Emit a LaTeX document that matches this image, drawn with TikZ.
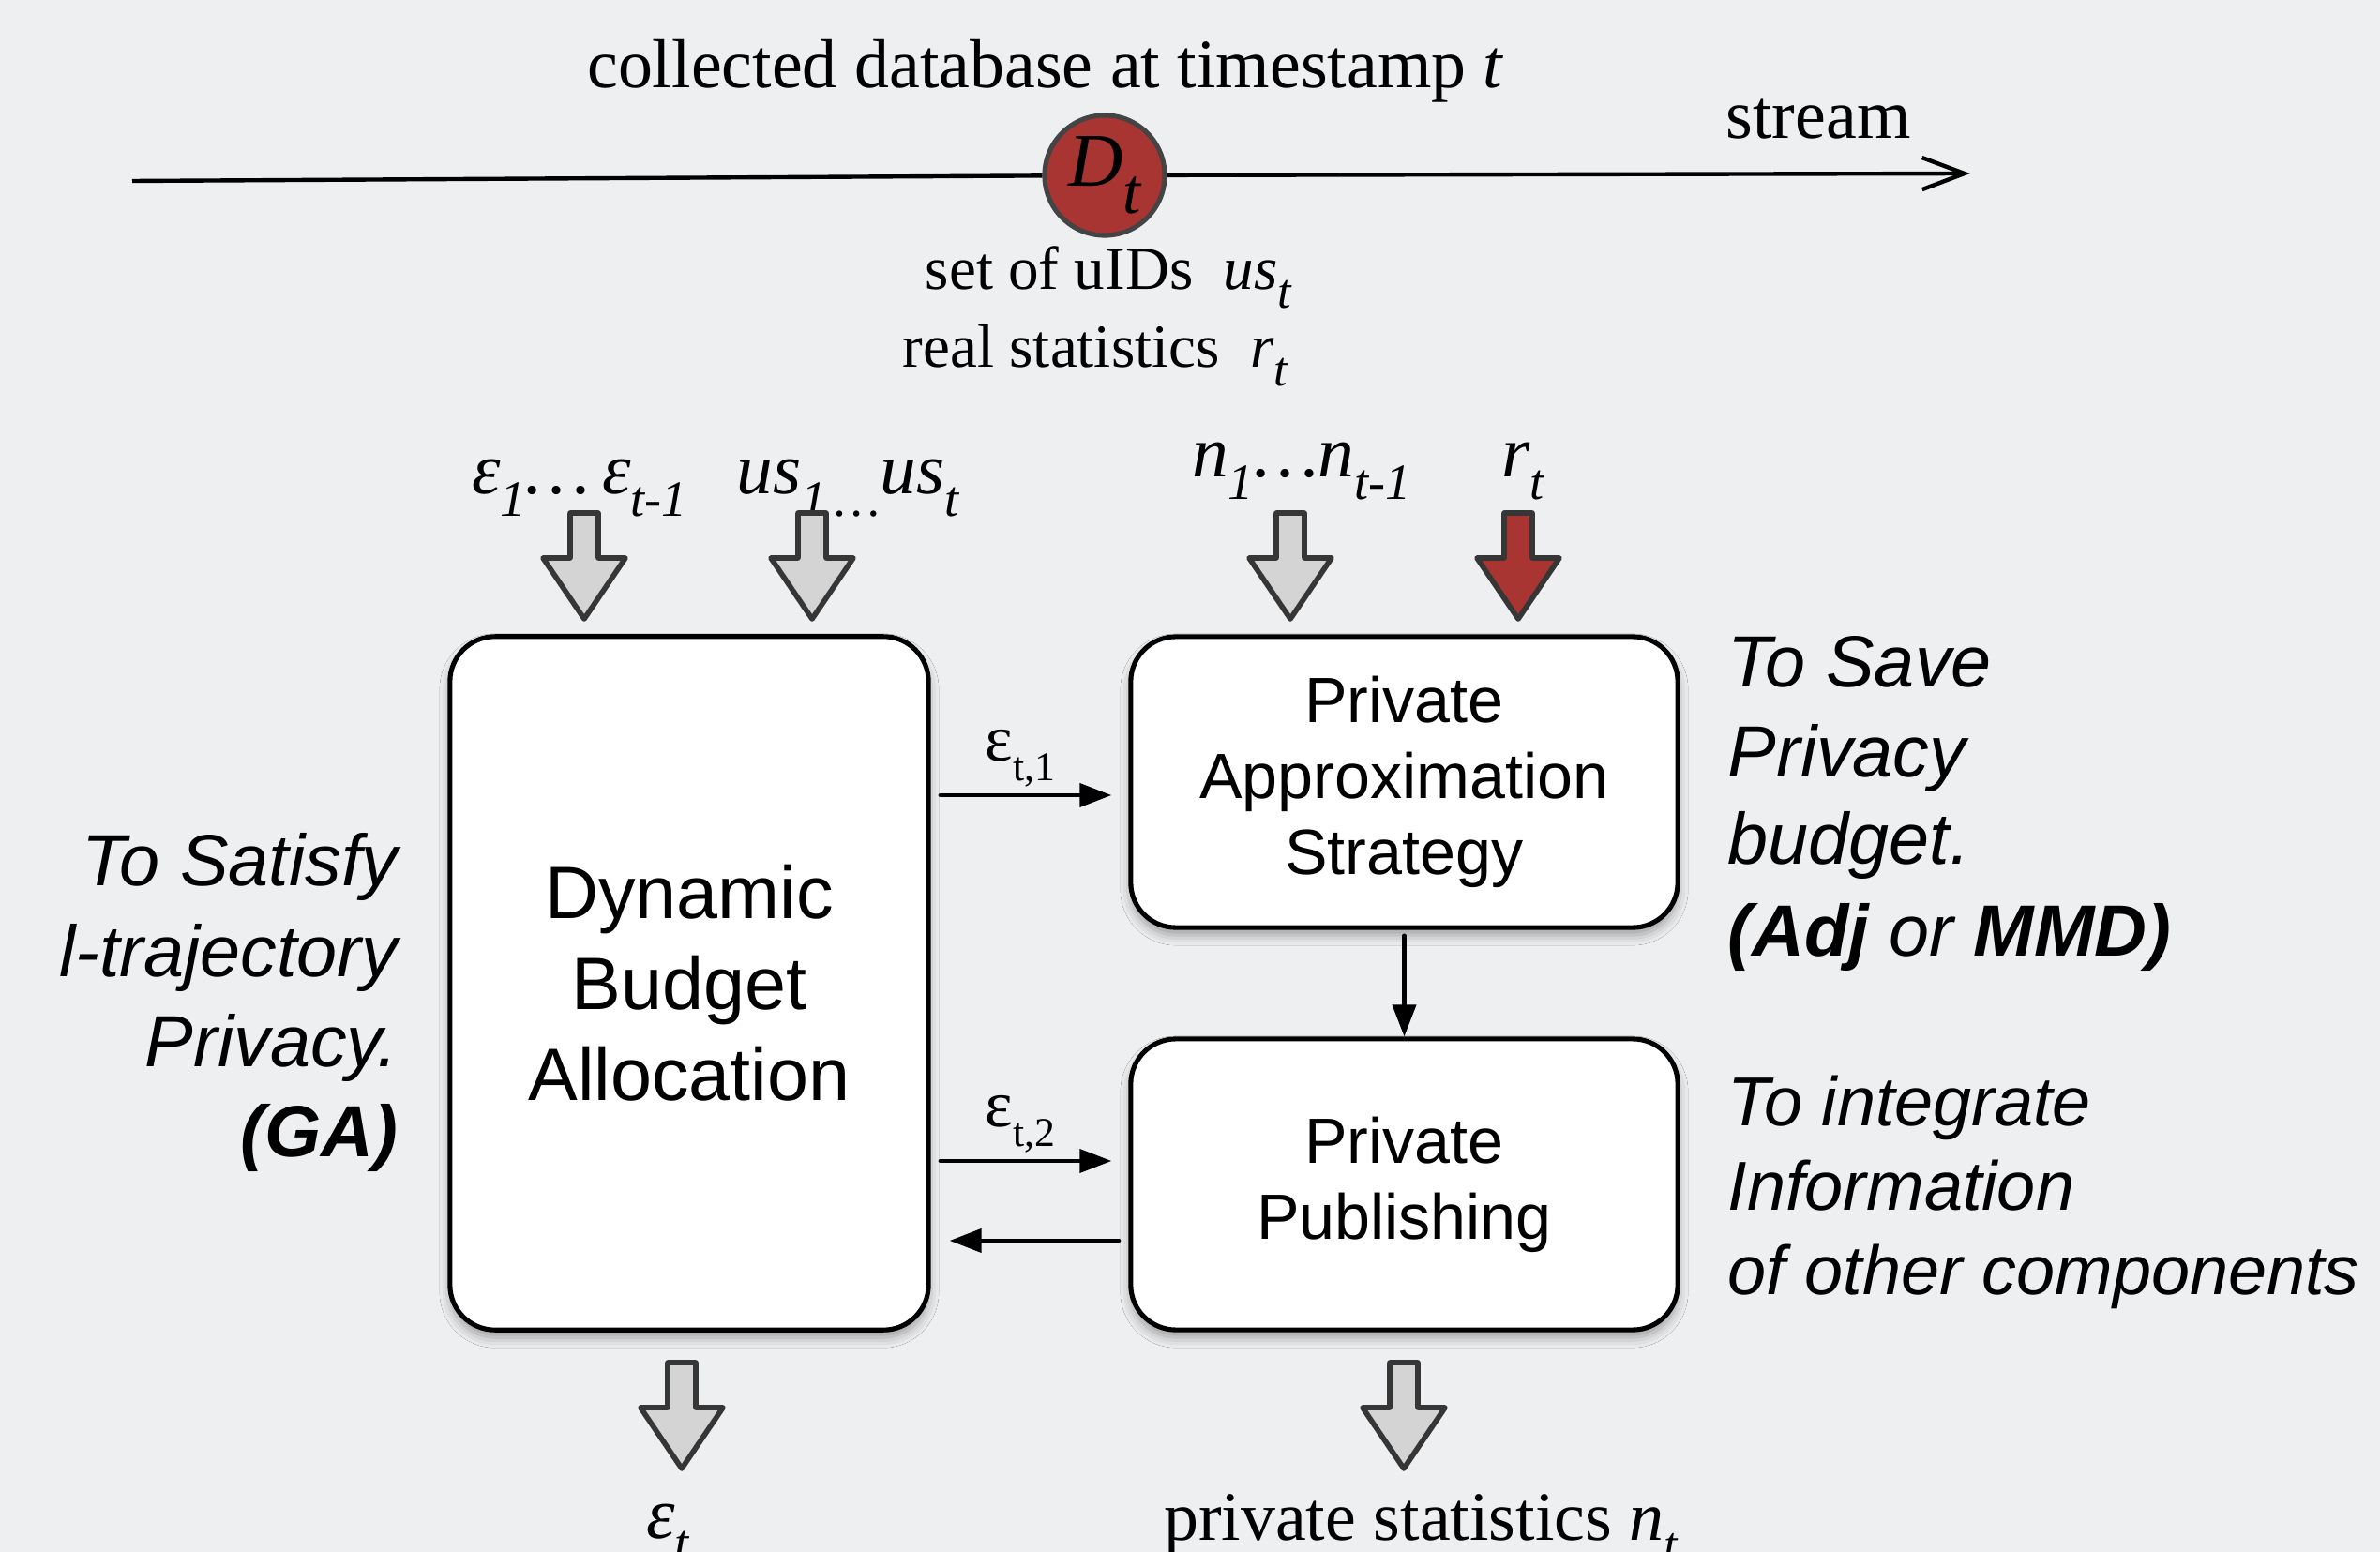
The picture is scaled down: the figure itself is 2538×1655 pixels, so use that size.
\documentclass[tikz,border=0pt]{standalone}
\usepackage{fontspec}
\usepackage{graphicx}
\setmainfont{Liberation Serif}
\newfontfamily\hel{Liberation Sans}
\usetikzlibrary{arrows.meta,shadows.blur}

\definecolor{bg}{HTML}{EEEFF1}
\definecolor{dred}{HTML}{A93532}
\definecolor{agray}{HTML}{D4D4D4}
\definecolor{astroke}{HTML}{363636}
\definecolor{cborder}{HTML}{444444}

\newcommand\lsub[2][0.7]{\raisebox{-0.3em}{\scalebox{#1}{#2}}}
\newcommand\fsz[2]{\fontsize{#1}{#2}\selectfont}

\tikzset{
  box/.style={draw=black, line width=1.45pt, fill=white, rounded corners=0.48cm,
    blur shadow={shadow xshift=0cm, shadow yshift=-0.08cm, shadow blur radius=0.11cm, shadow opacity=35},
    inner sep=0pt, align=center},
  conn/.style={line width=1.2pt, line cap=round, -{Triangle[length=0.34cm,width=0.25cm]}},
  pics/barrow/.style={code={
    \draw[line width=1.6pt, draw=astroke, line join=round, fill=#1]
      (-15,0) -- (15,0) -- (15,48) -- (44,48) -- (0,113) -- (-44,48) -- (-15,48) -- cycle;}},
  serif/.style={inner sep=0pt, anchor=base},
  annot/.style={inner sep=0pt, font=\hel\itshape\fsz{22pt}{22pt}},
  annotb/.style={inner sep=0pt, font=\hel\itshape\fsz{21pt}{21pt}}
}

\begin{document}
\begin{tikzpicture}[x=0.01cm, y=-0.01cm]
\fill[bg] (0,0) rectangle (2538,1655);
\useasboundingbox (0,0) rectangle (2538,1655);

% stream timeline
\coordinate (tls) at (141,193);
\coordinate (tle) at (2101,185);
\node[circle, fill=dred, draw=cborder, line width=1.45pt, minimum size=1.28cm, inner sep=0pt]
  (Dt) at (1178,187) {\fsz{23pt}{23pt}\itshape D\raisebox{-0.35em}{\scalebox{0.85}{t}}};
\draw[line width=1.25pt] (tls) -- (Dt);
\draw[line width=1.25pt, -{Straight Barb[length=0.45cm,width=0.34cm]}] (Dt) -- (tle);

\node[serif] (title) at (1115,94) {\fsz{21pt}{21pt}collected database at timestamp \textit{t}};
\node[serif] (stream) at (1939,148) {\fsz{21pt}{21pt}stream};
\node[serif] (uids) at (1182,309) {\fsz{18.5pt}{18.5pt}set of uIDs\hspace{0.5em}\textit{us}\lsub[0.8]{\itshape t}};
\node[serif] (rstat) at (1168,392) {\fsz{18.5pt}{18.5pt}real statistics\hspace{0.5em}\textit{r}\lsub[0.8]{\itshape t}};

% input labels
\node[serif] (leps) at (618,527) {\fsz{22pt}{22pt}\itshape ε\lsub{1}…\,ε\lsub{t-1}};
\node[serif] (lus) at (904,527) {\fsz{22pt}{22pt}\itshape us\lsub{1\,…}us\lsub{t}};
\node[serif] (ln) at (1388,509) {\fsz{22pt}{22pt}\itshape n\lsub{1}…n\lsub{t-1}};
\node[serif] (lr) at (1624,509) {\fsz{22pt}{22pt}\itshape r\lsub{t}};

% block arrows
\pic at (623,547) {barrow=agray};
\pic at (866,547) {barrow=agray};
\pic at (1376,547) {barrow=agray};
\pic at (1619,547) {barrow=dred};
\pic at (727,1453) {barrow=agray};
\pic at (1497,1453) {barrow=agray};

% boxes
\node[box, minimum width=5.10cm, minimum height=7.39cm, font=\hel\fsz{22.5pt}{27.6pt}]
  (dba) at (735,1048.5) {Dynamic\\Budget\\Allocation};
\node[box, minimum width=5.83cm, minimum height=3.10cm, font=\hel\fsz{19.4pt}{23pt}]
  (pas) at (1497.5,834) {Private\\Approximation\\Strategy};
\node[box, minimum width=5.83cm, minimum height=3.10cm, font=\hel\fsz{19.4pt}{23pt}]
  (pp) at (1497.5,1263) {Private\\Publishing};

% connectors
\coordinate (e1) at (0,848);
\coordinate (e2) at (0,1238);
\coordinate (e3) at (0,1323);
\draw[conn, shorten <=0.1cm, shorten >=0.18cm] (dba.east |- e1) -- (pas.west |- e1);
\draw[conn, shorten <=0.1cm, shorten >=0.18cm] (dba.east |- e2) -- (pp.west |- e2);
\draw[conn, shorten <=0.1cm, shorten >=0.2cm] (pp.west |- e3) -- (dba.east |- e3);
\draw[conn, shorten <=0.06cm] (pas.south) -- (pp.north);

\node[serif] (le1) at (1088,811) {\fsz{20pt}{20pt}ε\lsub[0.62]{t,1}};
\node[serif] (le2) at (1088,1201) {\fsz{20pt}{20pt}ε\lsub[0.62]{t,2}};

% outputs
\node[serif] (leps2) at (712,1640) {\fsz{22pt}{22pt}\itshape ε\lsub{t}};
\node[serif] (lpriv) at (1515,1642) {\fsz{21pt}{21pt}private statistics \textit{n}\lsub{\itshape t}};

% annotations left
\node[annot, anchor=base east] (a1) at (425,945) {To Satisfy};
\node[annot, anchor=base east] (a2) at (425,1041) {l-trajectory};
\node[annot, anchor=base east] (a3) at (425,1137) {Privacy.};
\node[annot, anchor=base east] (a4) at (425,1233) {\bfseries (GA)};

% annotations right
\node[annot, anchor=base west] (b1) at (1842,733) {To Save};
\node[annot, anchor=base west] (b2) at (1842,828) {Privacy};
\node[annot, anchor=base west] (b3) at (1842,922) {budget.};
\node[annot, anchor=base west] (b4) at (1842,1019) {{\bfseries (Adj} or {\bfseries MMD)}};

\node[annotb, anchor=base west] (c1) at (1842,1200) {To integrate};
\node[annotb, anchor=base west] (c2) at (1842,1290) {Information};
\node[annotb, anchor=base west] (c3) at (1842,1380) {of other components};
\end{tikzpicture}
\end{document}
